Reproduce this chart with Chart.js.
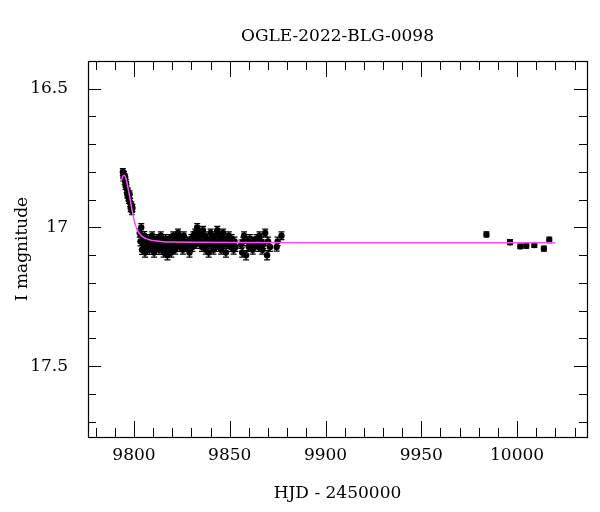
<!DOCTYPE html>
<html>
<head>
<meta charset="utf-8">
<title>OGLE-2022-BLG-0098</title>
<script src="https://cdn.jsdelivr.net/npm/chart.js@4.4.1/dist/chart.umd.min.js"></script>
<style>
  html, body { margin: 0; padding: 0; background: #fff; }
  #wrap { width: 600px; height: 512px; }
</style>
</head>
<body>
<div id="wrap"><canvas id="lc" width="600" height="512"></canvas></div>
<script>
// Photometry (HJD - 2450000, I mag, error)
const hjd = [
  9794.2, 9794.5, 9794.8, 9795.1, 9795.4, 9795.6, 9795.9, 9796.2, 9796.5, 9796.8,
  9797.1, 9797.4, 9797.7, 9798.0, 9798.3, 9798.6, 9798.9, 9799.2,
  9803.0, 9803.4, 9803.8, 9804.2, 9804.6, 9805.0, 9805.4, 9805.8, 9806.2, 9806.6,
  9807.0, 9807.5, 9808.0, 9808.5, 9809.0, 9809.5, 9810.0, 9810.5, 9811.0, 9811.5,
  9812.0, 9812.5, 9813.0, 9813.5, 9814.0, 9814.5, 9815.0, 9815.5, 9816.0, 9816.5,
  9817.0, 9817.5, 9818.0, 9818.5, 9819.0, 9819.5, 9820.0, 9820.5, 9821.0, 9821.5,
  9822.0, 9822.5, 9823.0, 9823.5, 9824.0, 9824.5, 9825.0, 9825.5, 9826.0, 9826.5,
  9827.5, 9828.0, 9829.0, 9829.5, 9830.0, 9830.5, 9831.0, 9831.5, 9832.0, 9832.5,
  9833.0, 9833.5, 9834.0, 9834.5, 9835.0, 9835.5, 9836.0, 9836.5, 9837.0, 9837.5,
  9838.0, 9838.5, 9839.0, 9839.5, 9840.0, 9840.5, 9841.0, 9841.5, 9842.0, 9842.5,
  9843.0, 9843.5, 9844.0, 9844.5, 9845.0, 9845.5, 9846.0, 9846.5, 9847.0, 9847.5,
  9848.0, 9848.5, 9849.0, 9849.5, 9850.0, 9850.5, 9851.0, 9851.5, 9852.0, 9852.5,
  9853.0, 9856.0, 9856.5, 9857.0, 9857.5, 9858.5, 9859.0, 9860.0, 9860.5, 9861.0,
  9862.0, 9862.5, 9863.5, 9864.0, 9865.0, 9865.5, 9866.5, 9867.0, 9867.5, 9868.5,
  9869.5, 9870.0, 9871.0, 9874.5, 9875.0, 9877.0,
  9984.0, 9996.3, 10001.7, 10004.8, 10009.0, 10014.0, 10016.8
];
const mag = [
  16.80, 16.82, 16.81, 16.83, 16.82, 16.85, 16.84, 16.86, 16.88, 16.87,
  16.89, 16.90, 16.88, 16.91, 16.93, 16.92, 16.94, 16.93,
  17.02, 17.05, 17.00, 17.08, 17.04, 17.06, 17.03, 17.09, 17.05, 17.07,
  17.04, 17.06, 17.08, 17.05, 17.07, 17.03, 17.06, 17.09, 17.05, 17.07,
  17.04, 17.06, 17.08, 17.05, 17.03, 17.07, 17.05, 17.09, 17.06, 17.04,
  17.08, 17.10, 17.06, 17.04, 17.07, 17.09, 17.05, 17.03, 17.06, 17.08,
  17.04, 17.06, 17.02, 17.05, 17.07, 17.04, 17.06, 17.08, 17.03, 17.05,
  17.07, 17.05, 17.09, 17.06, 17.04, 17.07, 17.03, 17.05, 17.02, 17.06,
  17.00, 17.04, 17.02, 17.05, 17.03, 17.07, 17.01, 17.05, 17.03, 17.08,
  17.04, 17.06, 17.09, 17.05, 17.02, 17.06, 17.04, 17.08, 17.05, 17.03,
  17.07, 17.01, 17.05, 17.03, 17.06, 17.08, 17.04, 17.02, 17.06, 17.05,
  17.09, 17.04, 17.06, 17.03, 17.05, 17.07, 17.04, 17.06, 17.08, 17.05,
  17.07, 17.06, 17.09, 17.05, 17.03, 17.10, 17.05, 17.07, 17.04, 17.06,
  17.08, 17.05, 17.06, 17.04, 17.07, 17.03, 17.05, 17.08, 17.06, 17.02,
  17.10, 17.05, 17.07, 17.07, 17.05, 17.03,
  17.025, 17.053, 17.068, 17.066, 17.063, 17.076, 17.045
];
const magErr = [
  0.012, 0.013, 0.012, 0.014, 0.012, 0.013, 0.012, 0.014, 0.013, 0.012,
  0.014, 0.013, 0.012, 0.014, 0.013, 0.012, 0.014, 0.013,
  0.015, 0.016, 0.014, 0.017, 0.015, 0.016, 0.015, 0.017, 0.015, 0.016,
  0.014, 0.016, 0.017, 0.015, 0.016, 0.014, 0.015, 0.017, 0.015, 0.016,
  0.014, 0.015, 0.017, 0.015, 0.014, 0.016, 0.015, 0.017, 0.016, 0.014,
  0.016, 0.017, 0.015, 0.014, 0.016, 0.017, 0.015, 0.014, 0.015, 0.016,
  0.014, 0.015, 0.014, 0.015, 0.016, 0.014, 0.015, 0.016, 0.014, 0.015,
  0.016, 0.015, 0.017, 0.015, 0.014, 0.016, 0.014, 0.015, 0.014, 0.015,
  0.014, 0.015, 0.014, 0.015, 0.014, 0.016, 0.014, 0.015, 0.014, 0.016,
  0.015, 0.015, 0.017, 0.015, 0.014, 0.015, 0.014, 0.016, 0.015, 0.014,
  0.016, 0.014, 0.015, 0.014, 0.015, 0.016, 0.014, 0.014, 0.015, 0.015,
  0.017, 0.014, 0.015, 0.014, 0.015, 0.016, 0.014, 0.015, 0.016, 0.015,
  0.016, 0.015, 0.017, 0.015, 0.014, 0.017, 0.015, 0.016, 0.014, 0.015,
  0.016, 0.015, 0.015, 0.014, 0.016, 0.014, 0.015, 0.016, 0.015, 0.014,
  0.017, 0.015, 0.016, 0.015, 0.015, 0.014,
  0.009, 0.009, 0.008, 0.008, 0.009, 0.009, 0.010
];

// Model curve
const modelT = [9793.2, 9794.0, 9794.9, 9796.0, 9797.0, 9798.0, 9798.8, 9799.7, 9800.5, 9801.5,
                9802.5, 9803.5, 9805.0, 9806.6, 9808.5, 9811.0, 9815.0, 9820.0, 9830.0, 9850.0,
                9900.0, 9950.0, 10020.0];
const modelM = [16.835, 16.818, 16.812, 16.828, 16.862, 16.898, 16.930, 16.962, 16.985, 17.005,
                17.018, 17.027, 17.036, 17.041, 17.045, 17.048, 17.051, 17.052, 17.053, 17.054,
                17.055, 17.055, 17.055];

const xTicks = [9800, 9850, 9900, 9950, 10000];
const xMinor = [9780, 9790, 9810, 9820, 9830, 9840, 9860, 9870, 9880, 9890, 9910, 9920, 9930, 9940,
                9960, 9970, 9980, 9990, 10010, 10020, 10030];
const yTicks = [16.5, 17, 17.5];
const yMinor = [16.6, 16.7, 16.8, 16.9, 17.1, 17.2, 17.3, 17.4, 17.6, 17.7];

const FONT = 'DejaVu Serif';

// error bars drawn under the markers
const errorBars = {
  id: 'errorBars',
  beforeDatasetsDraw(chart) {
    const { ctx, scales: { x, y } } = chart;
    ctx.save();
    ctx.strokeStyle = '#000';
    ctx.lineWidth = 1.2;
    hjd.forEach((t, i) => {
      const px = x.getPixelForValue(t);
      const y1 = y.getPixelForValue(mag[i] - magErr[i]);
      const y2 = y.getPixelForValue(mag[i] + magErr[i]);
      ctx.beginPath();
      ctx.moveTo(px, y1); ctx.lineTo(px, y2);
      ctx.moveTo(px - 3, y1); ctx.lineTo(px + 3, y1);
      ctx.moveTo(px - 3, y2); ctx.lineTo(px + 3, y2);
      ctx.stroke();
    });
    ctx.restore();
  }
};

// box frame with inward ticks on all four sides
const frame = {
  id: 'frame',
  afterDraw(chart) {
    const { ctx, chartArea: a, scales: { x, y } } = chart;
    ctx.save();
    ctx.strokeStyle = '#000';
    ctx.lineWidth = 1;
    const tick = (vals, len) => {
      vals.forEach(v => {
        const px = Math.round(x.getPixelForValue(v)) + 0.5;
        ctx.beginPath();
        ctx.moveTo(px, a.bottom); ctx.lineTo(px, a.bottom - len);
        ctx.moveTo(px, a.top); ctx.lineTo(px, a.top + len);
        ctx.stroke();
      });
    };
    const tickY = (vals, len) => {
      vals.forEach(v => {
        const py = Math.round(y.getPixelForValue(v)) + 0.5;
        ctx.beginPath();
        ctx.moveTo(a.left, py); ctx.lineTo(a.left + len, py);
        ctx.moveTo(a.right, py); ctx.lineTo(a.right - len, py);
        ctx.stroke();
      });
    };
    tick(xTicks, 16); tick(xMinor, 9);
    tickY(yTicks, 13); tickY(yMinor, 8);
    ctx.lineWidth = 1.2;
    ctx.strokeRect(Math.round(a.left) + 0.5, Math.round(a.top) + 0.5,
                   Math.round(a.right - a.left), Math.round(a.bottom - a.top));
    ctx.restore();
  }
};

new Chart(document.getElementById('lc').getContext('2d'), {
  type: 'scatter',
  data: {
    datasets: [
      {
        type: 'line',
        label: 'model',
        data: modelT.map((t, i) => ({ x: t, y: modelM[i] })),
        borderColor: '#ff4dff',
        borderWidth: 1.5,
        pointRadius: 0,
        fill: false,
        cubicInterpolationMode: 'monotone'
      },
      {
        label: 'OGLE I',
        data: hjd.map((t, i) => ({ x: t, y: mag[i] })),
        backgroundColor: '#000',
        borderWidth: 0,
        pointRadius: 3.2
      }
    ]
  },
  options: {
    responsive: false,
    animation: false,
    layout: { padding: { left: 0, right: 13, top: 0, bottom: 0 } },
    plugins: {
      legend: { display: false },
      tooltip: { enabled: false },
      title: {
        display: true,
        text: 'OGLE-2022-BLG-0098',
        fullSize: false,
        color: '#000',
        font: { family: FONT, size: 17, weight: 'normal' },
        padding: { top: 26, bottom: 14.6 }
      }
    },
    scales: {
      x: {
        type: 'linear',
        min: 9776,
        max: 10036.5,
        afterBuildTicks: s => { s.ticks = xTicks.map(v => ({ value: v })); },
        afterFit: s => { s.height = 75; },
        grid: { display: false, drawTicks: false },
        border: { display: false },
        ticks: {
          color: '#000',
          font: { family: FONT, size: 17 },
          padding: 8,
          maxRotation: 0,
          callback: v => String(v)
        },
        title: {
          display: true,
          text: 'HJD - 2450000',
          color: '#000',
          font: { family: FONT, size: 17 },
          padding: { top: 4, bottom: 8 }
        }
      },
      y: {
        type: 'linear',
        reverse: true,
        min: 16.4,
        max: 17.755,
        afterBuildTicks: s => { s.ticks = yTicks.map(v => ({ value: v })); },
        afterFit: s => { s.width = 88; },
        grid: { display: false, drawTicks: false },
        border: { display: false },
        ticks: {
          color: '#000',
          font: { family: FONT, size: 17 },
          padding: 20,
          callback: v => String(v)
        },
        title: {
          display: true,
          text: 'I magnitude',
          color: '#000',
          font: { family: FONT, size: 17 },
          padding: { top: 12, bottom: 4 }
        }
      }
    }
  },
  plugins: [errorBars, frame]
});
</script>
</body>
</html>
